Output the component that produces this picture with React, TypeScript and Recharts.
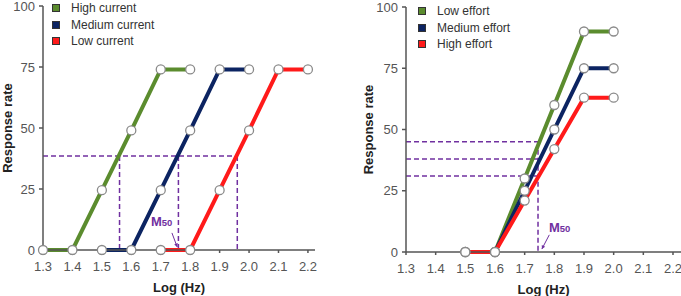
import { Legend, Line, LineChart, ReferenceDot, ReferenceLine, XAxis, YAxis } from 'recharts';

const xTicks = [1.3, 1.4, 1.5, 1.6, 1.7, 1.8, 1.9, 2.0, 2.1, 2.2];
const yTicks = [0, 25, 50, 75, 100];

const currentNames = ['High current', 'Medium current', 'Low current'];
const highCurrentX = [1.3, 1.4, 1.5, 1.6, 1.7, 1.8];
const highCurrentY = [0, 0, 24.5, 49, 74, 74];
const mediumCurrentX = [1.5, 1.6, 1.7, 1.8, 1.9, 2.0];
const mediumCurrentY = [0, 0, 24.5, 49, 74, 74];
const lowCurrentX = [1.7, 1.8, 1.9, 2.0, 2.1, 2.2];
const lowCurrentY = [0, 0, 24.5, 49, 74, 74];
const currentM50 = [1.56, 1.76, 1.96];
const currentHalf = 38.5;

const effortNames = ['Low effort', 'Medium effort', 'High effort'];
const effortX = [1.5, 1.6, 1.7, 1.8, 1.9, 2.0];
const lowEffortY = [0, 0, 30, 60, 90, 90];
const mediumEffortY = [0, 0, 25, 50, 75, 75];
const highEffortY = [0, 0, 21, 42, 63, 63];
const effortM50 = 1.745;
const effortHalf = [45, 38, 31];

const colors = ['#5b8c2e', '#0c2462', '#ff1a1a'];
const purple = '#7030a0';
const axisGrey = '#555';
const font = '"Liberation Sans", Arial, sans-serif';

const toPoints = (xs: number[], ys: number[]) => xs.map((x, i) => ({ x, y: ys[i] }));

const dotStyle = { r: 4.5, fill: '#fff', stroke: '#8a8a8a', strokeWidth: 1.3 };
const tickStyle = { fill: axisGrey, fontSize: 13, fontFamily: font };

function makeLegend(names: string[]) {
  return () => (
    <div style={{ fontFamily: font, fontSize: 12, color: '#333', whiteSpace: 'nowrap' }}>
      {names.map((n, i) => (
        <div key={n} style={{ display: 'flex', alignItems: 'center', height: 16.5 }}>
          <span style={{ width: 6, height: 6, background: colors[i], border: '1px solid #333', marginRight: 11 }} />
          <span>{n}</span>
        </div>
      ))}
    </div>
  );
}

function yTitle(cx: number) {
  return (props: any) => {
    const vb = props.viewBox;
    const cy = vb.y + vb.height / 2;
    return (
      <text x={cx} y={cy} transform={`rotate(-90 ${cx} ${cy})`} textAnchor="middle" dominantBaseline="central"
        fontFamily={font} fontSize={13} fontWeight="bold" fill="#222">
        Response rate
      </text>
    );
  };
}

const m50Label = (props: any) => {
  const { x, y } = props.viewBox;
  return (
    <text x={x} y={y} dominantBaseline="central" fontFamily={font} fontWeight="bold" fill={purple}>
      <tspan fontSize={13}>M</tspan>
      <tspan fontSize={9.5} dy={1}>50</tspan>
    </text>
  );
};

const arrowShape = (p: any) => {
  const { x1, y1, x2, y2 } = p;
  const a = Math.atan2(y2 - y1, x2 - x1);
  const h = 4;
  const pA = `${x2 - h * Math.cos(a - 0.5)},${y2 - h * Math.sin(a - 0.5)}`;
  const pB = `${x2 - h * Math.cos(a + 0.5)},${y2 - h * Math.sin(a + 0.5)}`;
  return (
    <g>
      <line x1={x1} y1={y1} x2={x2} y2={y2} stroke={purple} strokeWidth={1} />
      <polygon points={`${x2},${y2} ${pA} ${pB}`} fill={purple} />
    </g>
  );
};

const dashProps = { stroke: purple, strokeWidth: 1.5, strokeDasharray: '5 3', ifOverflow: 'visible' as const };

function CurrentChart() {
  const series = [toPoints(highCurrentX, highCurrentY), toPoints(mediumCurrentX, mediumCurrentY), toPoints(lowCurrentX, lowCurrentY)];
  return (
    <LineChart width={340} height={296} margin={{ top: 6, right: 25, bottom: 0, left: 0 }}>
      <XAxis type="number" dataKey="x" domain={[1.3, 2.224]} ticks={xTicks} tickFormatter={(v) => Number(v).toFixed(1)}
        stroke={axisGrey} strokeWidth={1.5} tick={tickStyle} tickSize={3} tickMargin={9} height={46} interval={0}
        label={{ value: 'Log (Hz)', position: 'insideBottom', offset: 4, fontFamily: font, fontSize: 13, fontWeight: 'bold', fill: '#222' }} />
      <YAxis type="number" dataKey="y" domain={[0, 100]} ticks={yTicks} width={43} stroke={axisGrey} strokeWidth={1.5}
        tick={tickStyle} tickSize={4} tickMargin={4} interval={0} label={{ content: yTitle(7) }} />
      <Legend verticalAlign="middle" align="center" layout="vertical" content={makeLegend(currentNames)}
        wrapperStyle={{ top: 0, left: 52, width: 'auto', height: 'auto' }} />
      <ReferenceLine segment={[{ x: 1.3, y: currentHalf }, { x: currentM50[2], y: currentHalf }]} {...dashProps} />
      {currentM50.map((m) => (
        <ReferenceLine key={m} segment={[{ x: m, y: currentHalf }, { x: m, y: 0 }]} {...dashProps} />
      ))}
      {series.map((d, i) => (
        <Line key={currentNames[i]} name={currentNames[i]} data={d} dataKey="y" stroke={colors[i]} strokeWidth={4}
          dot={dotStyle} activeDot={false} isAnimationActive={false} />
      ))}
      <ReferenceLine segment={[{ x: 1.738, y: 7 }, { x: 1.756, y: 1.2 }]} ifOverflow="visible" shape={arrowShape} />
      <ReferenceDot x={1.67} y={11.5} r={1} fill="none" stroke="none" ifOverflow="visible" label={{ content: m50Label }} />
    </LineChart>
  );
}

function EffortChart() {
  const series = [toPoints(effortX, lowEffortY), toPoints(effortX, mediumEffortY), toPoints(effortX, highEffortY)];
  return (
    <LineChart width={341} height={296} margin={{ top: 7, right: 0, bottom: 0, left: 0 }}>
      <XAxis type="number" dataKey="x" domain={[1.3, 2.227]} ticks={xTicks} tickFormatter={(v) => Number(v).toFixed(1)}
        stroke={axisGrey} strokeWidth={1.5} tick={tickStyle} tickSize={3} tickMargin={9} height={44} interval={0}
        label={{ value: 'Log (Hz)', position: 'insideBottom', offset: 2, fontFamily: font, fontSize: 13, fontWeight: 'bold', fill: '#222' }} />
      <YAxis type="number" dataKey="y" domain={[0, 100]} ticks={yTicks} width={66} stroke={axisGrey} strokeWidth={1.5}
        tick={tickStyle} tickSize={4} tickMargin={4} interval={0} label={{ content: yTitle(28) }} />
      <Legend verticalAlign="middle" align="center" layout="vertical" content={makeLegend(effortNames)}
        wrapperStyle={{ top: 3, left: 78, width: 'auto', height: 'auto' }} />
      {effortHalf.map((h) => (
        <ReferenceLine key={h} segment={[{ x: 1.3, y: h }, { x: effortM50, y: h }]} {...dashProps} />
      ))}
      <ReferenceLine segment={[{ x: effortM50, y: effortHalf[0] }, { x: effortM50, y: 0 }]} {...dashProps} />
      {series.map((d, i) => (
        <Line key={effortNames[i]} name={effortNames[i]} data={d} dataKey="y" stroke={colors[i]} strokeWidth={4}
          dot={dotStyle} activeDot={false} isAnimationActive={false} />
      ))}
      <ReferenceLine segment={[{ x: 1.783, y: 7 }, { x: 1.758, y: 1.2 }]} ifOverflow="visible" shape={arrowShape} />
      <ReferenceDot x={1.785} y={10} r={1} fill="none" stroke="none" ifOverflow="visible" label={{ content: m50Label }} />
    </LineChart>
  );
}

export default function App() {
  return (
    <div style={{ position: 'absolute', left: 0, top: 0, width: 681, height: 296, background: '#fff' }}>
      <div style={{ position: 'absolute', left: 0, top: 0 }}>
        <CurrentChart />
      </div>
      <div style={{ position: 'absolute', left: 340, top: 0 }}>
        <EffortChart />
      </div>
    </div>
  );
}
